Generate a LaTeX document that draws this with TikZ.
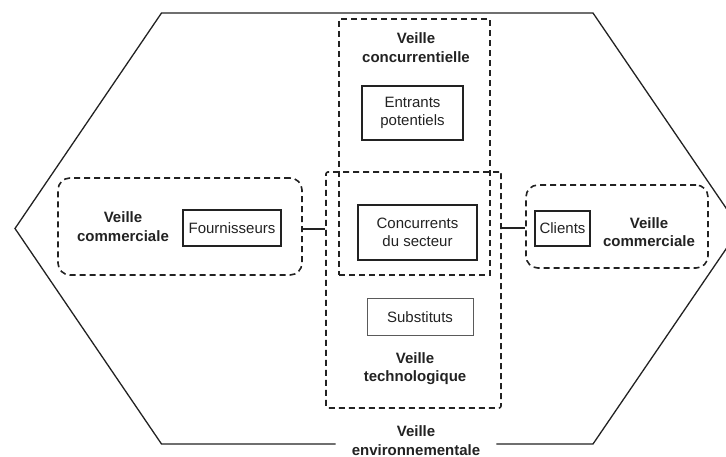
\documentclass[tikz,border=0pt]{standalone}
\usepackage{fontspec}
\setmainfont{Liberation Sans}
\usetikzlibrary{calc, positioning}
\definecolor{inkgray}{HTML}{222222}
\definecolor{softgray}{HTML}{5a5a5a}

\begin{document}
\begin{tikzpicture}[x=1pt, y=-1pt,
   every node/.style={font=\fontsize{15}{18.5}\selectfont, text=inkgray, align=center},
   actorbox/.style={draw=inkgray, line width=1.3pt, inner sep=0pt},
   watchzone/.style={draw=inkgray, line width=1.6pt, dash pattern=on 6pt off 4pt, inner sep=0pt},
   veilletxt/.style={font=\fontsize{15}{18.5}\selectfont\bfseries}]
            \useasboundingbox (0,0) rectangle (726,457);
            % zones de veille
            \node[watchzone, minimum width=151pt, minimum height=256pt] (conc) at (414.5,147) {};
            \node[watchzone, minimum width=175pt, minimum height=236pt, rounded corners=2pt] (tech) at (413.5,290) {};
            \node[watchzone, minimum width=244pt, minimum height=97pt, rounded corners=12pt] (comL) at (180,226.5) {};
            \node[watchzone, minimum width=182pt, minimum height=83pt, rounded corners=12pt] (comR) at (617,226.5) {};
            % acteurs
            \node[actorbox, minimum width=98pt, minimum height=36pt] (fourn) at (232,228) {Fournisseurs};
            \node[actorbox, minimum width=101pt, minimum height=54pt] (entr) at (412.5,113) {Entrants\\potentiels};
            \node[actorbox, line width=1.6pt, minimum width=119pt, minimum height=55pt] (concur) at (417.5,232.5) {Concurrents\\du secteur};
            \node[actorbox, draw=softgray, line width=1pt, minimum width=106pt, minimum height=36pt] (subst) at (420,317) {Substituts};
            \node[actorbox, line width=1.1pt, minimum width=55pt, minimum height=35pt] (clients) at (562.5,228.5) {Clients};
            % titres
            \node[veilletxt] (tconc) at (416,47.5) {Veille\\concurrentielle};
            \node[veilletxt] (tcomL) at (123,226.5) {Veille\\commerciale};
            \node[veilletxt] (tcomR) at (649,232) {Veille\\commerciale};
            \node[veilletxt] (ttech) at (415,368.5) {Veille\\technologique};
            \node[veilletxt, inner xsep=16pt, inner ysep=0pt] (tenv) at (416,440.5) {Veille\\environnementale};
            % liaisons
            \draw[inkgray, line width=1.3pt] (comL.east |- 0,229) -- (tech.west |- 0,229);
            \draw[inkgray, line width=1.3pt] (tech.east |- 0,228) -- (comR.west |- 0,228);
            % environnement
            \draw[inkgray, line width=1.3pt, line join=miter]
               (tenv.east |- 0,444) -- (593,444) -- (740,228.5) -- (593,13)
               -- (161.5,13) -- (15,228.5) -- (161.5,444) -- (tenv.west |- 0,444);
         \end{tikzpicture}
\end{document}
